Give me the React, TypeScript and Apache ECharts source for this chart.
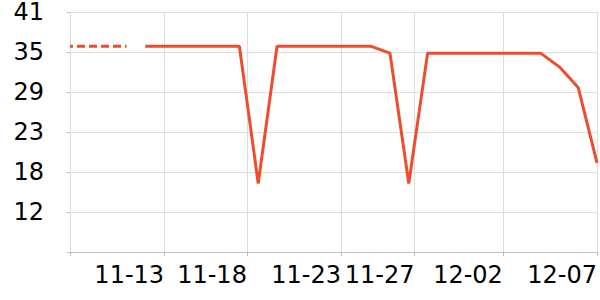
import { useEffect, useRef } from 'react';
import * as echarts from 'echarts';

// Values (x = point index along the axis)
const dashedValues = [36, 36, 36, 36];
const solidStartIndex = 4;
const solidValues = [
  36, 36, 36, 36, 36, 36, 16, 36, 36, 36, 36, 36, 36, 35, 16, 35, 35, 35, 35, 35, 35, 35, 33, 30, 19,
];
const xMax = 28;
const xTickPositions = [5, 9.4, 14.4, 18.3, 23, 28];
const xTickLabels = ['11-13', '11-18', '11-23', '11-27', '12-02', '12-07'];
const yTickValues = [6, 11.8333, 17.6667, 23.5, 29.3333, 35.1667, 41];
const yTickLabels = ['', '12', '18', '23', '29', '35', '41'];

const LINE_COLOR = '#ef4c2d';
const FONT = 'DejaVu Sans';

function lookup(positions: number[], labels: string[], v: number): string {
  for (let i = 0; i < positions.length; i++) {
    if (Math.abs(positions[i] - v) < 1e-3) return labels[i];
  }
  return '';
}

export default function App() {
  const ref = useRef<HTMLDivElement>(null);
  useEffect(() => {
    if (!ref.current) return;
    const chart = echarts.init(ref.current, undefined, { renderer: 'svg' });
    chart.setOption({
      animation: false,
      grid: { left: 70, right: 2, top: 10, bottom: 48 },
      xAxis: {
        type: 'value',
        min: 0,
        max: xMax,
        axisLine: { show: true, lineStyle: { color: '#bdbdbd', width: 1 } },
        axisTick: {
          show: true,
          length: 4,
          customValues: [0, ...xTickPositions],
          lineStyle: { color: '#bdbdbd' },
        },
        splitLine: { show: true, lineStyle: { color: '#dddddd', width: 1 } },
        axisLabel: {
          customValues: xTickPositions,
          formatter: (v: number) => lookup(xTickPositions, xTickLabels, v),
          align: 'right',
          margin: 11,
          fontSize: 24,
          color: '#000',
          fontFamily: FONT,
        },
      },
      yAxis: {
        type: 'value',
        min: 6,
        max: 41,
        axisLine: { show: false },
        axisTick: {
          show: true,
          length: 3,
          customValues: yTickValues,
          lineStyle: { color: '#bdbdbd' },
        },
        splitLine: { show: true, lineStyle: { color: '#dddddd', width: 1 } },
        axisLabel: {
          customValues: yTickValues.slice(1),
          formatter: (v: number) => lookup(yTickValues, yTickLabels, v),
          margin: 26,
          fontSize: 24,
          lineHeight: 20,
          color: '#000',
          fontFamily: FONT,
        },
      },
      series: [
        {
          type: 'line',
          data: dashedValues.map((v, i) => [i, v]),
          showSymbol: false,
          lineStyle: { color: LINE_COLOR, width: 3, type: [8, 4], dashOffset: 5 },
        },
        {
          type: 'line',
          data: solidValues.map((v, i) => [i + solidStartIndex, v]),
          showSymbol: false,
          lineStyle: { color: LINE_COLOR, width: 3 },
        },
      ],
    });
    return () => chart.dispose();
  }, []);
  return (
    <div
      ref={ref}
      style={{ position: 'fixed', left: 0, top: 0, width: 600, height: 300, background: '#fff' }}
    />
  );
}
